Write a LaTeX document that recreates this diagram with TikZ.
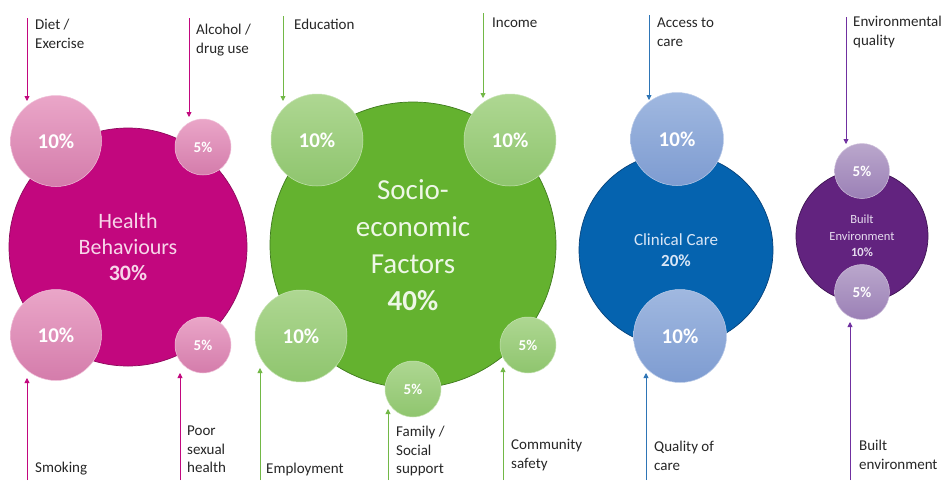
\documentclass[tikz,border=0pt]{standalone}
\usepackage{fontspec}
\setmainfont{Carlito}
\usetikzlibrary{arrows.meta}

% group colours
\definecolor{hbMain}{HTML}{C2077E}
\definecolor{hbEdge}{HTML}{8E0A5C}
\definecolor{hbTop}{HTML}{EAA6C8}
\definecolor{hbBot}{HTML}{D47CAB}
\definecolor{hbText}{HTML}{F7D6E9}
\definecolor{hbLine}{HTML}{C2077E}

\definecolor{seMain}{HTML}{64B22F}
\definecolor{seEdge}{HTML}{3F7A1E}
\definecolor{seTop}{HTML}{AED792}
\definecolor{seBot}{HTML}{8FC56E}
\definecolor{seText}{HTML}{EEF7E6}
\definecolor{seLine}{HTML}{72B846}

\definecolor{ccMain}{HTML}{0563AF}
\definecolor{ccEdge}{HTML}{05417A}
\definecolor{ccTop}{HTML}{A0B8E0}
\definecolor{ccBot}{HTML}{7E9CD1}
\definecolor{ccText}{HTML}{D9E6F6}
\definecolor{ccLine}{HTML}{2E75B6}

\definecolor{beMain}{HTML}{62237F}
\definecolor{beEdge}{HTML}{3E1352}
\definecolor{beTop}{HTML}{BAA7CC}
\definecolor{beBot}{HTML}{9B80B6}
\definecolor{beText}{HTML}{E6DCEF}
\definecolor{beLine}{HTML}{7030A0}

\definecolor{labelText}{HTML}{262626}

\begin{document}
\begin{tikzpicture}[x=1pt,y=-1pt,
  maincirc/.style={circle, inner sep=0pt, minimum size=#1, line width=0.7pt, align=center},
  subcirc/.style={circle, inner sep=0pt, minimum size=#1, line width=0.5pt, text=white},
  big/.style={font=\fontsize{21}{24}\selectfont\bfseries},
  small/.style={font=\fontsize{15}{18}\selectfont\bfseries},
  lbl/.style={anchor=north west, inner sep=0pt, align=left, text=labelText,
              font=\fontsize{15}{18.5}\selectfont},
  feed/.style={line width=0.8pt, -{Triangle[length=5pt,width=5pt]}},
  hbsub/.style={subcirc=#1, top color=hbTop, bottom color=hbBot, draw=hbTop!70!white},
  sesub/.style={subcirc=#1, top color=seTop, bottom color=seBot, draw=seTop!70!white},
  ccsub/.style={subcirc=#1, top color=ccTop, bottom color=ccBot, draw=ccTop!70!white},
  besub/.style={subcirc=#1, top color=beTop, bottom color=beBot, draw=beTop!70!white}]

\path[use as bounding box, fill=white] (0,0) rectangle (943,480);

% ---------- Health Behaviours ----------
\node[maincirc=238, fill=hbMain, draw=hbEdge, text=hbText,
      font=\fontsize{22}{26}\selectfont] (hb) at (128,247)
      {Health\\Behaviours\\\textbf{30\%}};
\node[hbsub=91, big]   (hbDiet)  at (56,141)  {10\%};
\node[hbsub=56, small] (hbAlc)   at (203,147) {5\%};
\node[hbsub=91, big]   (hbSmoke) at (56,335)  {10\%};
\node[hbsub=56, small] (hbSex)   at (203,345) {5\%};

\coordinate (hbDietS) at (27,18);   \coordinate (hbDietE) at (27,101);
\coordinate (hbAlcS) at (189,18);   \coordinate (hbAlcE) at (189,117);
\coordinate (hbSmokeS) at (27,480); \coordinate (hbSmokeE) at (27,378);
\coordinate (hbSexS) at (180,480);  \coordinate (hbSexE) at (180,373);
\draw[feed, hbLine] (hbDietS) -- (hbDietE);
\draw[feed, hbLine] (hbAlcS) -- (hbAlcE);
\draw[feed, hbLine] (hbSmokeS) -- (hbSmokeE);
\draw[feed, hbLine] (hbSexS) -- (hbSexE);

\node[lbl] (tDiet)  at (35,19)   {Diet /\\Exercise};
\node[lbl] (tAlc)   at (196,24)  {Alcohol /\\drug use};
\node[lbl] (tSmoke) at (35,462)  {Smoking};
\node[lbl] (tSex)   at (187,426) {Poor\\sexual\\health};

% ---------- Socio-economic Factors ----------
\node[maincirc=286, fill=seMain, draw=seEdge, text=seText,
      font=\fontsize{29}{37}\selectfont] (se) at (413,245)
      {Socio-\\economic\\Factors\\\textbf{40\%}};
\node[sesub=92, big]   (seEdu)  at (317,140) {10\%};
\node[sesub=92, big]   (seInc)  at (510,140) {10\%};
\node[sesub=92, big]   (seEmp)  at (301,336) {10\%};
\node[sesub=56, small] (seFam)  at (413,389) {5\%};
\node[sesub=56, small] (seCom)  at (528,345) {5\%};

\coordinate (seEduS) at (283,16);  \coordinate (seEduE) at (283,101);
\coordinate (seIncS) at (483,13);  \coordinate (seIncE) at (483,98);
\coordinate (seEmpS) at (260,480); \coordinate (seEmpE) at (260,368);
\coordinate (seFamS) at (388,480); \coordinate (seFamE) at (388,409);
\coordinate (seComS) at (503,480); \coordinate (seComE) at (503,367);
\draw[feed, seLine] (seEduS) -- (seEduE);
\draw[feed, seLine] (seIncS) -- (seIncE);
\draw[feed, seLine] (seEmpS) -- (seEmpE);
\draw[feed, seLine] (seFamS) -- (seFamE);
\draw[feed, seLine] (seComS) -- (seComE);

\node[lbl] (tEdu) at (294,19)  {Education};
\node[lbl] (tInc) at (492,18)  {Income};
\node[lbl] (tEmp) at (266,463) {Employment};
\node[lbl] (tFam) at (396,426) {Family /\\Social\\support};
\node[lbl] (tCom) at (511,439) {Community\\safety};

% ---------- Clinical Care ----------
\node[maincirc=194, fill=ccMain, draw=ccEdge, text=ccText,
      font=\fontsize{17}{20.5}\selectfont] (cc) at (676,250)
      {Clinical Care\\\textbf{20\%}};
\node[ccsub=93, big] (ccAcc)  at (677,139) {10\%};
\node[ccsub=93, big] (ccQual) at (680,336) {10\%};

\coordinate (ccAccS) at (649,15);   \coordinate (ccAccE) at (649,100);
\coordinate (ccQualS) at (646,480); \coordinate (ccQualE) at (646,373);
\draw[feed, ccLine] (ccAccS) -- (ccAccE);
\draw[feed, ccLine] (ccQualS) -- (ccQualE);

\node[lbl] (tAcc)  at (657,18)  {Access to\\care};
\node[lbl] (tQual) at (654,441) {Quality of\\care};

% ---------- Built Environment ----------
\node[maincirc=132, fill=beMain, draw=beEdge, text=beText,
      font=\fontsize{12.5}{16.5}\selectfont] (be) at (862,236)
      {Built\\Environment\\\textbf{10\%}};
\node[besub=55, small] (beEnv)   at (862,171) {5\%};
\node[besub=55, small] (beBuilt) at (862,292) {5\%};

\coordinate (beEnvS) at (846,17);    \coordinate (beEnvE) at (846,144);
\coordinate (beBuiltS) at (850,480); \coordinate (beBuiltE) at (850,322);
\draw[feed, beLine] (beEnvS) -- (beEnvE);
\draw[feed, beLine] (beBuiltS) -- (beBuiltE);

\node[lbl] (tEnv)   at (853,16)  {Environmental\\quality};
\node[lbl] (tBuilt) at (859,440) {Built\\environment};

\end{tikzpicture}
\end{document}
